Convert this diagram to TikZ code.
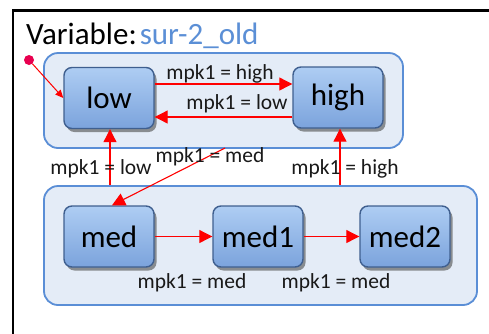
\documentclass[tikz,border=0pt]{standalone}
\usepackage{fontspec}
\setmainfont{Carlito}
\usetikzlibrary{arrows.meta,shadows,calc}
\definecolor{contfill}{HTML}{E4ECF7}
\definecolor{contdraw}{HTML}{5A8ED6}
\definecolor{stTop}{HTML}{AECDF3}
\definecolor{stBot}{HTML}{7BA3DC}
\definecolor{stDraw}{HTML}{3F5F8F}
\definecolor{titleblue}{HTML}{5B8FD6}
\definecolor{dotred}{HTML}{E8004F}
\begin{document}
\begin{tikzpicture}[x=1pt,y=-1pt,
  cont/.style={draw=contdraw, fill=contfill, line width=1.8pt, rounded corners=14pt, inner sep=0pt},
  state/.style={draw=stDraw, line width=1.4pt, rounded corners=8pt, top color=stTop, bottom color=stBot,
    minimum width=90pt, minimum height=61pt, inner sep=0pt, font=\fontsize{31}{31}\selectfont,
    drop shadow={shadow xshift=2.5pt, shadow yshift=-3.5pt, opacity=0.6, fill=black!70}},
  tr/.style={draw=red, line width=1.1pt, -{Triangle[length=13pt,width=13pt]}},
  lbl/.style={inner sep=0pt, font=\fontsize{21.5}{21.5}\selectfont, text=black!90}
]
\useasboundingbox (0,0) rectangle (489,333);
\fill[white] (0,0) rectangle (489,333);
\draw[line width=2.5pt] (13,345) -- (13,10.5) -- (500,10.5);

\node[anchor=base west, inner sep=0pt, font=\fontsize{31}{31}\selectfont] (title) at (26,44.5) {Variable:\kern3pt\textcolor{titleblue}{sur-2\_old}};

\node[cont, minimum width=359pt, minimum height=95pt] (topc) at (223.5,100.5) {};
\node[cont, minimum width=433pt, minimum height=119pt] (botc) at (260.5,245.5) {};

\node[state] (low) at (109,98) {low};
\node[state] (high) at (338,97.5) {high};
\node[state] (med) at (109,236.5) {med};
\node[state] (med1) at (258,236.5) {med1};
\node[state] (med2) at (405,236.5) {med2};

\node[circle, fill=dotred, minimum size=10pt, inner sep=0pt] (init) at (29,60) {};
\draw[draw=red, line width=1pt, -{Triangle[length=8pt,width=7pt]}] (init) -- (low.west);

\coordinate (a1) at ($(low.east)+(0,-14)$);
\coordinate (a2) at ($(high.west)+(0,19.5)$);
\draw[tr] (a1) -- (a1 -| high.west);
\draw[tr] (a2) -- (a2 -| low.east);
\draw[tr] ([xshift=1pt]low.south |- botc.north) -- ([xshift=1pt]low.south);
\draw[tr] ([xshift=2pt]high.south |- botc.north) -- ([xshift=2pt]high.south);
\coordinate (dstart) at (225,148);
\draw[tr] (dstart) -- ([xshift=3pt]med.north);
\draw[tr] (med.east) -- (med1.west);
\draw[tr] (med1.east) -- (med2.west);

\node[lbl] (l1) at (220,74) {mpk1 = high};
\node[lbl] (l2) at (237,104) {mpk1 = low};
\node[lbl] (l3) at (101,169) {mpk1 = low};
\node[lbl] (l4) at (210,157) {mpk1 = med};
\node[lbl] (l5) at (345,169) {mpk1 = high};
\node[lbl] (l6) at (192,283) {mpk1 = med};
\node[lbl] (l7) at (336,283) {mpk1 = med};
\end{tikzpicture}
\end{document}
